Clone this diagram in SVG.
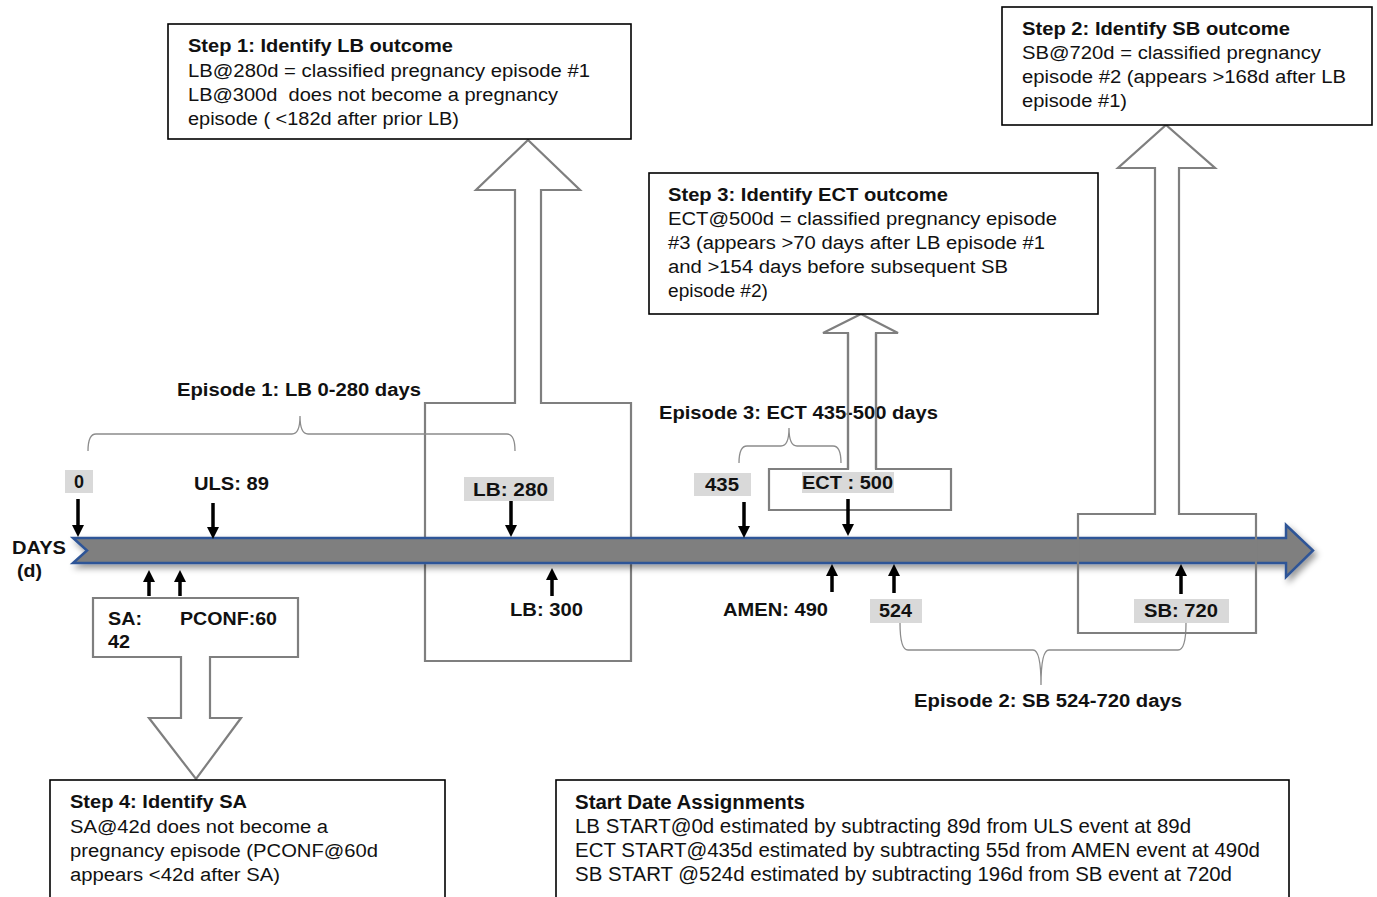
<svg xmlns="http://www.w3.org/2000/svg" width="1377" height="897" viewBox="0 0 1377 897">
<style>
.box{fill:#fff;stroke:#000;stroke-width:1.6}
.blk{fill:none;stroke:#7f7f7f;stroke-width:2.2;stroke-linejoin:miter}
.brace{fill:none;stroke:#8c8c8c;stroke-width:1.3}
.lbl{font-family:"Liberation Sans",Arial,sans-serif;font-weight:bold;font-size:18px;fill:#111}
.bt{font-family:"Liberation Sans",Arial,sans-serif;font-size:18px;fill:#111}
.btb{font-family:"Liberation Sans",Arial,sans-serif;font-weight:bold;font-size:18px;fill:#111}
.nar{font-family:"Liberation Sans Narrow","Liberation Sans",Arial,sans-serif;font-size:20px;fill:#111}
.narb{font-family:"Liberation Sans Narrow","Liberation Sans",Arial,sans-serif;font-weight:bold;font-size:20px;fill:#111}
.bg{fill:#d9d9d9}
.ar{stroke:#000;stroke-width:3.5;fill:none;marker-end:url(#ah)}
</style>
<defs>
<marker id="ah" markerUnits="userSpaceOnUse" viewBox="0 0 12 12" markerWidth="12" markerHeight="12" refX="4" refY="6" orient="auto">
<path d="M0,0 L12,6 L0,12 Z" fill="#000"/>
</marker>
<filter id="sh" x="-5%" y="-50%" width="110%" height="220%">
<feDropShadow dx="3" dy="4" stdDeviation="3" flood-color="#000" flood-opacity="0.4"/>
</filter>
</defs>
<rect width="1377" height="897" fill="#fff"/>

<!-- LB block arrow (behind timeline) -->
<g id="lb-block">
<path class="blk" d="M425,661 L425,403 L515,403 L515,190 L476,190 L528,140 L580,190 L541,190 L541,403 L631,403 L631,661 Z"/>
</g>

<!-- braces -->
<g id="braces">
<path class="brace" d="M88,451 Q88,434 96,434 L292,434 Q300,434 300,416 Q300,434 308,434 L507,434 Q515,434 515,451"/>
<path class="brace" d="M739,463 Q739,446 747,446 L781,446 Q789,446 789,428 Q789,446 797,446 L833,446 Q841,446 841,463"/>
<path class="brace" d="M900,623 Q900,650 908,650 L1033,650 Q1041,650 1041,685 Q1041,650 1049,650 L1178,650 Q1186,650 1186,623"/>
</g>

<!-- timeline -->
<g id="timeline">
<path d="M73,538 L1286,538 L1286,525 L1313,550.5 L1286,577 L1286,563 L73,563 L87,550.5 Z" fill="#7f7f7f" stroke="#2f5597" stroke-width="2.5" stroke-linejoin="miter" filter="url(#sh)"/>
<text class="lbl" x="12" y="554" textLength="54" lengthAdjust="spacingAndGlyphs">DAYS</text>
<text class="lbl" x="17" y="577" textLength="25" lengthAdjust="spacingAndGlyphs">(d)</text>
</g>

<!-- SB block arrow (over timeline) -->
<g id="sb-block">
<path class="blk" d="M1078,633 L1078,514 L1155,514 L1155,168 L1118,168 L1166,125 L1215,168 L1179,168 L1179,514 L1256,514 L1256,633 Z"/>
</g>

<!-- SA block arrow -->
<g id="sa-block">
<path class="blk" fill="#fff" d="M93,598 L298,598 L298,657 L210,657 L210,718 L241,718 L196,779 L149,718 L181,718 L181,657 L93,657 Z"/>
<text class="lbl" x="108" y="625" textLength="34" lengthAdjust="spacingAndGlyphs">SA:</text>
<text class="lbl" x="108" y="648" textLength="22" lengthAdjust="spacingAndGlyphs">42</text>
<text class="lbl" x="180" y="625" textLength="97" lengthAdjust="spacingAndGlyphs">PCONF:60</text>
</g>

<!-- event labels -->
<g id="ev-0">
<rect class="bg" x="65" y="470" width="28" height="23"/>
<text class="lbl" x="79" y="488" text-anchor="middle">0</text>
</g>
<g id="ev-uls">
<text class="lbl" x="194" y="490" textLength="75" lengthAdjust="spacingAndGlyphs">ULS: 89</text>
</g>
<g id="ev-lb280">
<rect class="bg" x="464" y="477" width="90" height="24"/>
<text class="lbl" x="473" y="496" textLength="75" lengthAdjust="spacingAndGlyphs">LB: 280</text>
</g>
<g id="ev-lb300">
<text class="lbl" x="510" y="616" textLength="73" lengthAdjust="spacingAndGlyphs">LB: 300</text>
</g>
<g id="ev-435">
<rect class="bg" x="694" y="473" width="57" height="23"/>
<text class="lbl" x="705" y="491" textLength="34" lengthAdjust="spacingAndGlyphs">435</text>
</g>
<g id="ect-block">
<path class="blk" d="M848,469 L848,333 L823,333 L861,314 L898,333 L876,333 L876,469 L951,469 L951,510 L769,510 L769,469 Z"/>
<rect class="bg" x="802" y="472" width="92" height="21"/>
<text class="lbl" x="802" y="489" textLength="91" lengthAdjust="spacingAndGlyphs">ECT : 500</text>
</g>
<g id="ev-amen">
<text class="lbl" x="723" y="616" textLength="105" lengthAdjust="spacingAndGlyphs">AMEN: 490</text>
</g>
<g id="ev-524">
<rect class="bg" x="870" y="599" width="52" height="24"/>
<text class="lbl" x="879" y="617" textLength="33" lengthAdjust="spacingAndGlyphs">524</text>
</g>
<g id="ev-sb720">
<rect class="bg" x="1134" y="599" width="95" height="24"/>
<text class="lbl" x="1144" y="617" textLength="74" lengthAdjust="spacingAndGlyphs">SB: 720</text>
</g>

<!-- episode labels -->
<g id="episodes">
<text class="lbl" x="177" y="396" textLength="244" lengthAdjust="spacingAndGlyphs">Episode 1: LB 0-280 days</text>
<text class="lbl" x="659" y="419" textLength="279" lengthAdjust="spacingAndGlyphs">Episode 3: ECT 435-500 days</text>
<text class="lbl" x="914" y="707" textLength="268" lengthAdjust="spacingAndGlyphs">Episode 2: SB 524-720 days</text>
</g>

<!-- ECT shaft drawn over episode 3 text -->
<g id="ect-shaft-over">
<path class="blk" d="M848,469 L848,333 M876,333 L876,469"/>
</g>

<!-- small black arrows -->
<g id="connectors">
<line class="ar" x1="78" y1="499" x2="78" y2="529"/>
<line class="ar" x1="213" y1="503" x2="213" y2="531"/>
<line class="ar" x1="511" y1="501" x2="511" y2="529"/>
<line class="ar" x1="744" y1="502" x2="744" y2="530"/>
<line class="ar" x1="848" y1="499" x2="848" y2="528"/>
<line class="ar" x1="149" y1="596" x2="149" y2="578"/>
<line class="ar" x1="180" y1="596" x2="180" y2="578"/>
<line class="ar" x1="552" y1="596" x2="552" y2="576"/>
<line class="ar" x1="832" y1="592" x2="832" y2="572"/>
<line class="ar" x1="894" y1="593" x2="894" y2="572"/>
<line class="ar" x1="1181" y1="594" x2="1181" y2="572"/>
</g>

<!-- text boxes -->
<g id="step1">
<rect class="box" x="168" y="24" width="463" height="115"/>
<text class="btb" x="188" y="52" textLength="265" lengthAdjust="spacingAndGlyphs">Step 1: Identify LB outcome</text>
<text class="bt" x="188" y="77" textLength="402" lengthAdjust="spacingAndGlyphs">LB@280d = classified pregnancy episode #1</text>
<text class="bt" x="188" y="101" textLength="370" lengthAdjust="spacingAndGlyphs" xml:space="preserve">LB@300d  does not become a pregnancy</text>
<text class="bt" x="188" y="125" textLength="271" lengthAdjust="spacingAndGlyphs">episode ( &lt;182d after prior LB)</text>
</g>
<g id="step2">
<rect class="box" x="1002" y="7" width="370" height="118"/>
<text class="btb" x="1022" y="35" textLength="268" lengthAdjust="spacingAndGlyphs">Step 2: Identify SB outcome</text>
<text class="bt" x="1022" y="59" textLength="299" lengthAdjust="spacingAndGlyphs">SB@720d = classified pregnancy</text>
<text class="bt" x="1022" y="83" textLength="324" lengthAdjust="spacingAndGlyphs">episode #2 (appears &gt;168d after LB</text>
<text class="bt" x="1022" y="107" textLength="105" lengthAdjust="spacingAndGlyphs">episode #1)</text>
</g>
<g id="step3">
<rect class="box" x="649" y="173" width="449" height="141"/>
<text class="btb" x="668" y="201" textLength="280" lengthAdjust="spacingAndGlyphs">Step 3: Identify ECT outcome</text>
<text class="bt" x="668" y="225" textLength="389" lengthAdjust="spacingAndGlyphs">ECT@500d = classified pregnancy episode</text>
<text class="bt" x="668" y="249" textLength="377" lengthAdjust="spacingAndGlyphs">#3 (appears &gt;70 days after LB episode #1</text>
<text class="bt" x="668" y="273" textLength="340" lengthAdjust="spacingAndGlyphs">and &gt;154 days before subsequent SB</text>
<text class="bt" x="668" y="297" textLength="100" lengthAdjust="spacingAndGlyphs">episode #2)</text>
</g>
<g id="step4">
<rect class="box" x="50" y="780" width="395" height="125"/>
<text class="btb" x="70" y="808" textLength="177" lengthAdjust="spacingAndGlyphs">Step 4: Identify SA</text>
<text class="bt" x="70" y="833" textLength="258" lengthAdjust="spacingAndGlyphs">SA@42d does not become a</text>
<text class="bt" x="70" y="857" textLength="308" lengthAdjust="spacingAndGlyphs">pregnancy episode (PCONF@60d</text>
<text class="bt" x="70" y="881" textLength="210" lengthAdjust="spacingAndGlyphs">appears &lt;42d after SA)</text>
</g>
<g id="start-dates">
<rect class="box" x="556" y="780" width="733" height="125"/>
<text class="narb" x="575" y="809" textLength="230" lengthAdjust="spacingAndGlyphs">Start Date Assignments</text>
<text class="nar" x="575" y="833" textLength="616" lengthAdjust="spacingAndGlyphs">LB START@0d estimated by subtracting 89d from ULS event at 89d</text>
<text class="nar" x="575" y="857" textLength="685" lengthAdjust="spacingAndGlyphs">ECT START@435d estimated by subtracting 55d from AMEN event at 490d</text>
<text class="nar" x="575" y="881" textLength="657" lengthAdjust="spacingAndGlyphs">SB START @524d estimated by subtracting 196d from SB event at 720d</text>
</g>
</svg>
